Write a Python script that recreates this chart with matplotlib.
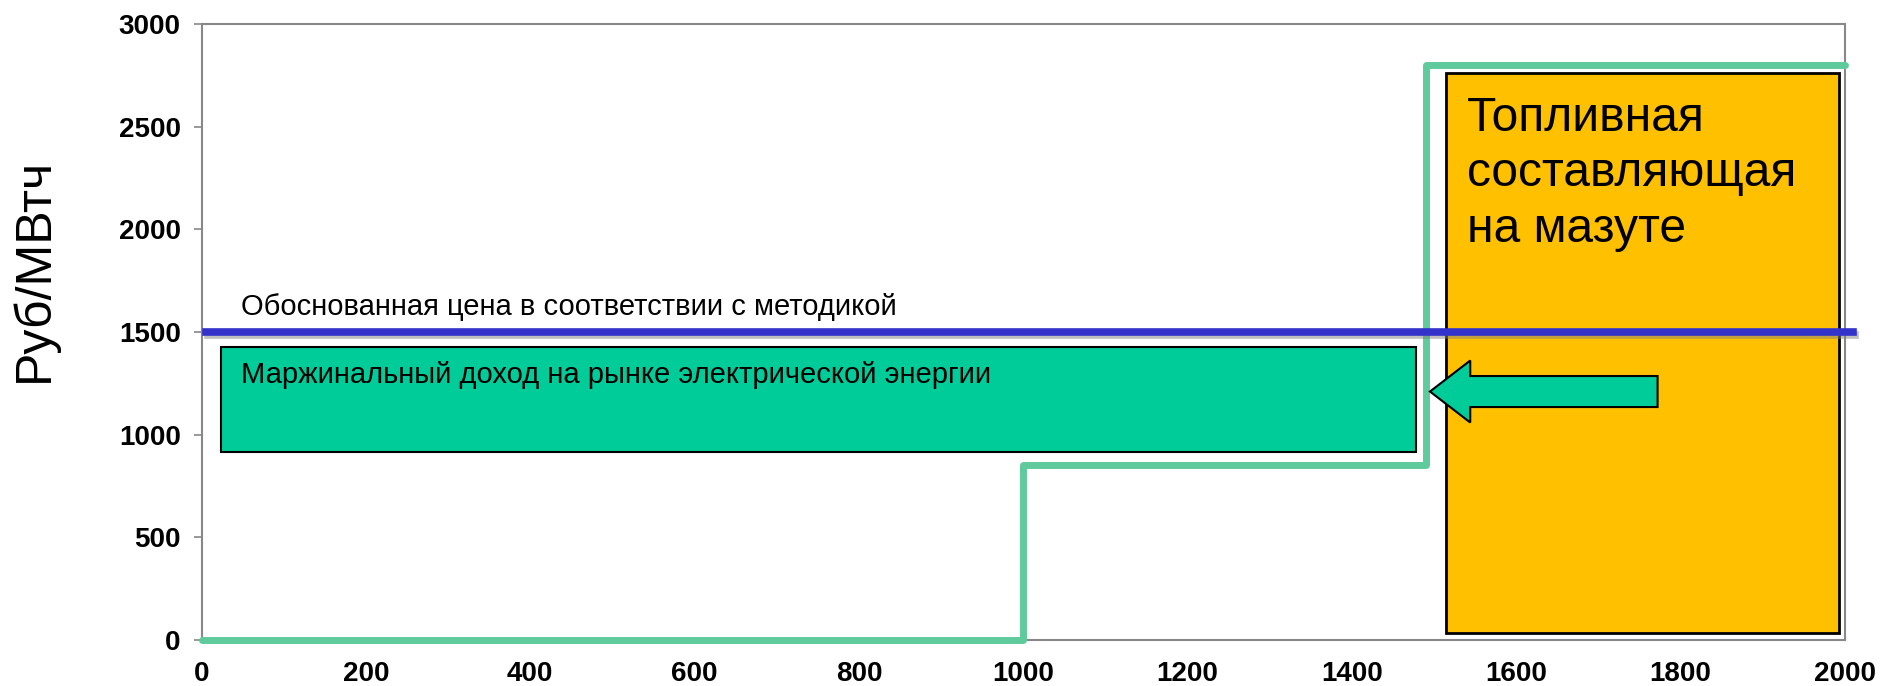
import numpy as np
import matplotlib
matplotlib.use('Agg')
import matplotlib.pyplot as plt
import matplotlib.patheffects as pe
from matplotlib.patches import Rectangle, FancyArrow

plt.rcParams['font.family'] = ['Liberation Sans', 'DejaVu Sans']

# данные
step_x = [0, 1000, 1490, 2000]
step_y = [0, 850, 2800]
price_level = 1500
price_span = [5, 2010]
margin_box = [24, 916, 1478, 1427]      # x0, y0, x1, y1
fuel_box = [1514, 34, 1993, 2762]
arrow_x = [1772, 1495]
arrow_y = 1210
x_ticks = np.arange(0, 2001, 200)
y_ticks = np.arange(0, 3001, 500)

txt_price = 'Обоснованная цена в соответствии с методикой'
txt_margin = 'Маржинальный доход на рынке электрической энергии'
txt_fuel = 'Топливная\nсоставляющая\nна мазуте'

fig = plt.figure(figsize=(18.82, 6.86), dpi=100)
ax = fig.add_axes([0.1071, 0.0671, 0.9803 - 0.1071, 0.965 - 0.0671])

# оранжевый блок
ax.add_patch(Rectangle((fuel_box[0], fuel_box[1]), fuel_box[2] - fuel_box[0], fuel_box[3] - fuel_box[1],
                       facecolor='#FFC000', edgecolor='black', lw=2, zorder=2))
ax.text(fuel_box[0] + 26, 2650, txt_fuel, fontsize=34.5, va='top', ha='left', linespacing=1.3, zorder=5)

# зеленый блок
ax.add_patch(Rectangle((margin_box[0], margin_box[1]), margin_box[2] - margin_box[0], margin_box[3] - margin_box[1],
                       facecolor='#00CC99', edgecolor='black', lw=1.5, zorder=2))
ax.text(48, 1250, txt_margin, fontsize=21, va='baseline', ha='left', zorder=5)

# ступенчатая линия
xs = [step_x[0], step_x[1], step_x[1], step_x[2], step_x[2], step_x[3]]
ys = [step_y[0], step_y[0], step_y[1], step_y[1], step_y[2], step_y[2]]
ax.plot(xs, ys, color='#5FCA9B', lw=5, solid_joinstyle='round', solid_capstyle='round',
        clip_on=False, zorder=4)

# синяя линия
ax.plot(price_span, [price_level, price_level], color='#3333CC', lw=5.5, clip_on=False, zorder=6,
        path_effects=[pe.SimpleLineShadow(offset=(1.5, -2.5), shadow_color='gray', alpha=0.5), pe.Normal()])
ax.text(48, 1583, txt_price, fontsize=21, va='baseline', ha='left', zorder=5)

# стрелка
ax.add_patch(FancyArrow(arrow_x[0], arrow_y, arrow_x[1] - arrow_x[0], 0, width=151, head_width=302,
                        head_length=49, length_includes_head=True, facecolor='#00CC99',
                        edgecolor='black', lw=1.5, zorder=7))

ax.set_xlim(0, 2000)
ax.set_ylim(0, 3000)
ax.set_xticks(x_ticks)
ax.set_yticks(y_ticks)
for lbl in ax.get_xticklabels() + ax.get_yticklabels():
    lbl.set_fontweight('bold')
ax.tick_params(axis='x', length=0, pad=15, labelsize=20)
ax.tick_params(axis='y', length=6, width=1.2, color='#888888', pad=9, labelsize=20)
for s in ax.spines.values():
    s.set_color('#888888')
    s.set_linewidth(1.5)

# подпись оси Y (смещена вверх, как в оригинале)
fig.text(34 / 1882, 1 - 270 / 686, 'Руб/МВтч', fontsize=36, rotation=90, ha='center', va='center')

fig.savefig('out.png', dpi=100)
